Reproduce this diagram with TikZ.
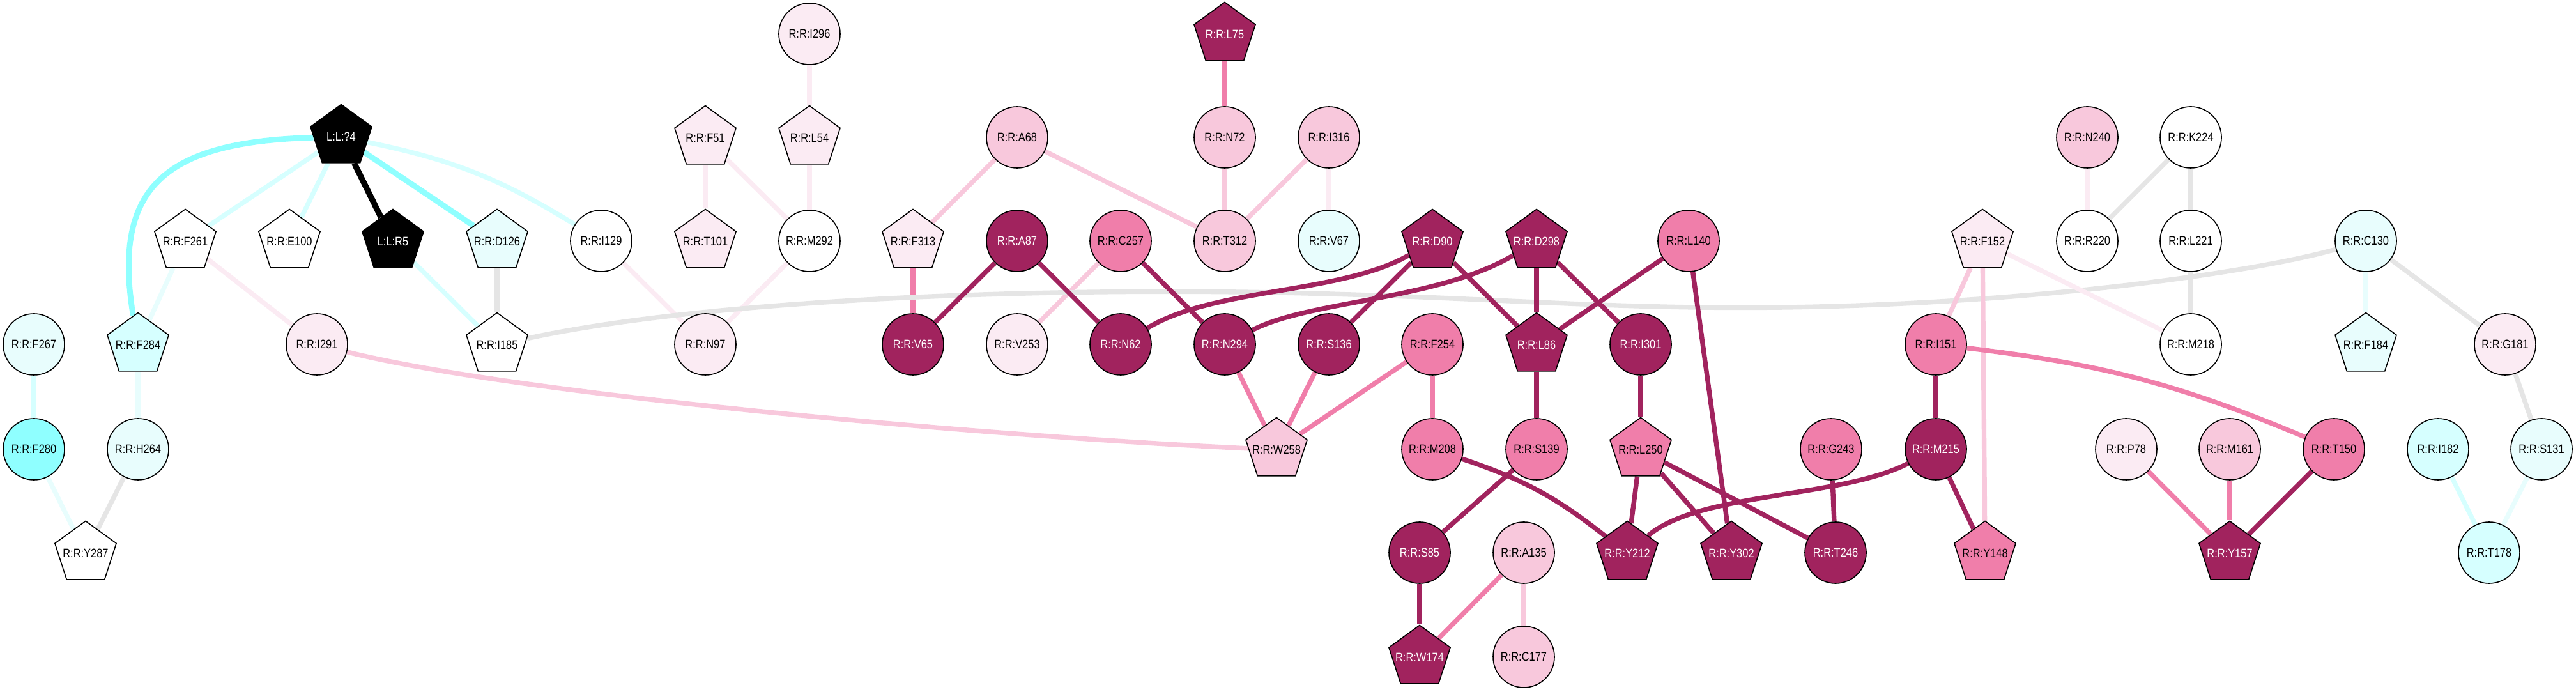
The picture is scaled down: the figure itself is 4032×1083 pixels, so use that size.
\documentclass[tikz,border=0pt]{standalone}
\usepackage{fontspec}
\setmainfont{Liberation Sans}
\newfontfamily\nodefont[FakeStretch=0.85]{Liberation Sans}
\usetikzlibrary{shapes.geometric,backgrounds}
\definecolor{cDark}{RGB}{161,35,94}
\definecolor{cMed}{RGB}{240,126,170}
\definecolor{cLight}{RGB}{248,200,220}
\definecolor{cVLight}{RGB}{251,235,243}
\definecolor{cyS}{RGB}{143,255,255}
\definecolor{cyL}{RGB}{214,255,255}
\definecolor{cyV}{RGB}{232,253,253}
\definecolor{cGrey}{RGB}{229,229,229}
\newcommand{\zl}[1]{\makebox[0pt]{#1}}
\tikzset{
  nd/.style={draw=black,line width=0.45pt,inner sep=0pt,font=\nodefont\fontsize{5.5}{6}\selectfont,text=black},
  circ/.style={nd,circle,minimum size=0.96cm},
  pent/.style={nd,regular polygon,regular polygon sides=5,minimum size=1.01cm},
  dk/.style={fill=cDark,text=white},
  bk/.style={fill=black,text=white},
  md/.style={fill=cMed},
  lt/.style={fill=cLight},
  vl/.style={fill=cVLight},
  wh/.style={fill=white},
  cs/.style={fill=cyS},
  cl/.style={fill=cyL},
  cv/.style={fill=cyV},
  ed/.style={line width=2.1pt},
  eDark/.style={ed,draw=cDark},
  eMed/.style={ed,draw=cMed},
  eLight/.style={ed,draw=cLight},
  eVLight/.style={ed,draw=cVLight},
  eGrey/.style={ed,draw=cGrey},
  eCyS/.style={ed,draw=cyS,line width=2.5pt},
  eCyL/.style={ed,draw=cyL},
  eCyV/.style={ed,draw=cyV},
  eBlack/.style={ed,draw=black,line width=2.6pt}
}
\begin{document}
\begin{tikzpicture}[x=0.01cm,y=-0.01cm]
\useasboundingbox (0,0) rectangle (4032,1083);
% nodes
\node[pent,bk] (L4) at (534,214) {\zl{L:L:?4}};
\node[pent,wh] (F261) at (290,378) {\zl{R:R:F261}};
\node[pent,wh] (E100) at (453,378) {\zl{R:R:E100}};
\node[pent,bk] (R5) at (615,378) {\zl{L:L:R5}};
\node[pent,cv] (D126) at (778,378) {\zl{R:R:D126}};
\node[circ,wh] (I129) at (941,377) {R:R:I129};
\node[circ,cv] (F267) at (53,539) {R:R:F267};
\node[pent,cl] (F284) at (216,540) {\zl{R:R:F284}};
\node[circ,vl] (I291) at (496,539) {R:R:I291};
\node[pent,wh] (I185) at (778,540) {\zl{R:R:I185}};
\node[circ,cs] (F280) at (53,703) {R:R:F280};
\node[circ,cv] (H264) at (216,703) {R:R:H264};
\node[pent,wh] (Y287) at (134,866) {\zl{R:R:Y287}};
\node[circ,vl] (I296) at (1267,53) {R:R:I296};
\node[pent,vl] (F51) at (1104,216) {\zl{R:R:F51}};
\node[pent,vl] (L54) at (1267,216) {\zl{R:R:L54}};
\node[circ,lt] (A68) at (1592,215) {R:R:A68};
\node[pent,dk] (L75) at (1917,54) {\zl{R:R:L75}};
\node[circ,lt] (N72) at (1917,215) {R:R:N72};
\node[pent,vl] (T101) at (1104,378) {\zl{R:R:T101}};
\node[circ,wh] (M292) at (1267,377) {R:R:M292};
\node[pent,vl] (F313) at (1429,378) {\zl{R:R:F313}};
\node[circ,dk] (A87) at (1592,377) {R:R:A87};
\node[circ,md] (C257) at (1754,377) {R:R:C257};
\node[circ,lt] (T312) at (1917,377) {R:R:T312};
\node[circ,vl] (N97) at (1104,539) {R:R:N97};
\node[circ,dk] (V65) at (1429,539) {R:R:V65};
\node[circ,vl] (V253) at (1592,539) {R:R:V253};
\node[circ,dk] (N62) at (1754,539) {R:R:N62};
\node[circ,dk] (N294) at (1917,539) {R:R:N294};
\node[pent,lt] (W258) at (1998,704) {\zl{R:R:W258}};
\node[circ,lt] (I316) at (2080,215) {R:R:I316};
\node[circ,cv] (V67) at (2080,377) {R:R:V67};
\node[pent,dk] (D90) at (2242,378) {\zl{R:R:D90}};
\node[pent,dk] (D298) at (2405,378) {\zl{R:R:D298}};
\node[circ,md] (L140) at (2643,377) {R:R:L140};
\node[circ,dk] (S136) at (2080,539) {R:R:S136};
\node[circ,md] (F254) at (2242,539) {R:R:F254};
\node[pent,dk] (L86) at (2405,540) {\zl{R:R:L86}};
\node[circ,dk] (I301) at (2568,539) {R:R:I301};
\node[circ,md] (M208) at (2242,703) {R:R:M208};
\node[circ,md] (S139) at (2405,703) {R:R:S139};
\node[pent,md] (L250) at (2568,704) {\zl{R:R:L250}};
\node[circ,md] (G243) at (2866,703) {R:R:G243};
\node[circ,dk] (S85) at (2222,865) {R:R:S85};
\node[circ,lt] (A135) at (2385,865) {R:R:A135};
\node[pent,dk] (Y212) at (2547,866) {\zl{R:R:Y212}};
\node[pent,dk] (Y302) at (2710,866) {\zl{R:R:Y302}};
\node[circ,dk] (T246) at (2873,865) {R:R:T246};
\node[pent,dk] (W174) at (2222,1029) {\zl{R:R:W174}};
\node[circ,lt] (C177) at (2385,1028) {R:R:C177};
\node[circ,lt] (N240) at (3267,215) {R:R:N240};
\node[circ,wh] (K224) at (3429,215) {R:R:K224};
\node[pent,vl] (F152) at (3103,378) {\zl{R:R:F152}};
\node[circ,wh] (R220) at (3267,377) {R:R:R220};
\node[circ,wh] (L221) at (3429,377) {R:R:L221};
\node[circ,cv] (C130) at (3703,377) {R:R:C130};
\node[circ,md] (I151) at (3030,539) {R:R:I151};
\node[circ,wh] (M218) at (3429,539) {R:R:M218};
\node[pent,cv] (F184) at (3703,540) {\zl{R:R:F184}};
\node[circ,vl] (G181) at (3921,539) {R:R:G181};
\node[circ,dk] (M215) at (3030,703) {R:R:M215};
\node[pent,md] (Y148) at (3107,866) {\zl{R:R:Y148}};
\node[circ,vl] (P78) at (3328,703) {R:R:P78};
\node[circ,lt] (M161) at (3490,703) {R:R:M161};
\node[circ,md] (T150) at (3653,703) {R:R:T150};
\node[circ,cl] (I182) at (3816,703) {R:R:I182};
\node[circ,cv] (S131) at (3978,703) {R:R:S131};
\node[pent,dk] (Y157) at (3490,866) {\zl{R:R:Y157}};
\node[circ,cl] (T178) at (3896,865) {R:R:T178};
% edges
\begin{pgfonlayer}{background}
\draw[eCyS] (L4) .. controls (260,222) and (175,290) .. (F284);
\draw[eCyL] (L4) -- (F261);
\draw[eCyL] (L4) -- (E100);
\draw[eCyS] (L4) -- (D126);
\draw[eCyL] (L4) to[bend left=10] (I129);
\draw[eCyV] (F261) -- (F284);
\draw[eVLight] (F261) -- (I291);
\draw[eCyL] (R5) -- (I185);
\draw[eGrey] (D126) -- (I185);
\draw[eVLight] (I129) -- (N97);
\draw[eLight] (I291) .. controls (800,615) and (1500,680) .. (W258);
\draw[eCyL] (F267) -- (F280);
\draw[eCyV] (F284) -- (H264);
\draw[eCyV] (F280) -- (Y287);
\draw[eGrey] (H264) -- (Y287);
\draw[eVLight] (I296) -- (L54);
\draw[eVLight] (F51) -- (T101);
\draw[eVLight] (F51) -- (M292);
\draw[eVLight] (L54) -- (M292);
\draw[eVLight] (M292) -- (N97);
\draw[eLight] (A68) -- (F313);
\draw[eLight] (A68) -- (T312);
\draw[eMed] (L75) -- (N72);
\draw[eLight] (N72) -- (T312);
\draw[eLight] (I316) -- (T312);
\draw[eVLight] (I316) -- (V67);
\draw[eMed] (F313) -- (V65);
\draw[eLight] (C257) -- (V253);
\draw[eGrey] (I185) .. controls (1100,470) and (1600,450) .. (2000,458)
  .. controls (2400,466) and (2600,495) .. (3000,474)
  .. controls (3300,458) and (3550,420) .. (C130);
\draw[eDark] (A87) -- (V65);
\draw[eDark] (A87) -- (N62);
\draw[eDark] (C257) -- (N294);
\draw[eDark] (D90) .. controls (2100,460) and (1900,450) .. (N62);
\draw[eDark] (D298) .. controls (2250,470) and (2050,470) .. (N294);
\draw[eDark] (D90) -- (S136);
\draw[eDark] (D90) -- (L86);
\draw[eDark] (D298) -- (L86);
\draw[eDark] (D298) -- (I301);
\draw[eDark] (L140) -- (L86);
\draw[eDark] (L140) -- (Y302);
\draw[eMed] (N294) -- (W258);
\draw[eMed] (S136) -- (W258);
\draw[eMed] (F254) -- (W258);
\draw[eMed] (F254) -- (M208);
\draw[eDark] (L86) -- (S139);
\draw[eDark] (I301) -- (L250);
\draw[eDark] (M208) to[bend left=10] (Y212);
\draw[eDark] (S139) -- (S85);
\draw[eDark] (L250) -- (Y212);
\draw[eDark] (L250) -- (Y302);
\draw[eDark] (L250) -- (T246);
\draw[eDark] (G243) -- (T246);
\draw[eDark] (M215) .. controls (2880,780) and (2660,770) .. (Y212);
\draw[eDark] (S85) -- (W174);
\draw[eMed] (A135) -- (W174);
\draw[eLight] (A135) -- (C177);
\draw[eVLight] (N240) -- (R220);
\draw[eGrey] (K224) -- (R220);
\draw[eGrey] (K224) -- (L221);
\draw[eGrey] (L221) -- (M218);
\draw[eLight] (F152) -- (I151);
\draw[eLight] (F152) -- (Y148);
\draw[eVLight] (F152) -- (M218);
\draw[eCyV] (C130) -- (F184);
\draw[eGrey] (C130) -- (G181);
\draw[eDark] (I151) -- (M215);
\draw[eMed] (I151) to[bend left=8] (T150);
\draw[eDark] (M215) -- (Y148);
\draw[eMed] (P78) -- (Y157);
\draw[eMed] (M161) -- (Y157);
\draw[eDark] (T150) -- (Y157);
\draw[eGrey] (G181) -- (S131);
\draw[eCyL] (I182) -- (T178);
\draw[eCyV] (S131) -- (T178);
\draw[eBlack] (L4) -- (R5);
\end{pgfonlayer}
\end{tikzpicture}
\end{document}
